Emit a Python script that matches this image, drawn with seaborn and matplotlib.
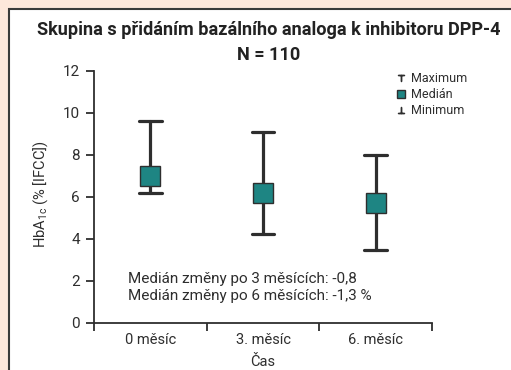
import matplotlib
matplotlib.use("Agg")
import matplotlib.pyplot as plt
from matplotlib.lines import Line2D
from matplotlib.patches import Rectangle
import pandas as pd
import seaborn as sns

# Data
months = ['0 měsíc', '3. měsíc', '6. měsíc']
maximum = [9.6, 9.1, 8.0]
median = [7.0, 6.2, 5.7]
minimum = [6.2, 4.25, 3.5]

teal = '#1e8583'
dark = '#2e2e2e'

sns.set_theme(style='white')
plt.rcParams['font.family'] = ['Roboto', 'DejaVu Sans']

# long form: min, median, max per month -> median estimator + 100% interval = min..max
df = pd.DataFrame({
    'cas': months * 3,
    'hba1c': minimum + median + maximum,
})

fig = plt.figure(figsize=(5.11, 3.70), dpi=100, facecolor='#fde7db')
fig.patches.append(Rectangle((9 / 511, -0.1), 1.2, 1 - 9 / 370 + 0.1,
                             transform=fig.transFigure, facecolor='white',
                             edgecolor='#3a3a3a', linewidth=1.5, zorder=-5))
ax = fig.add_axes([94 / 511, 1 - 323 / 370, 338 / 511, 252 / 370])
ax.set_facecolor('none')
ax.set_zorder(2)

sns.pointplot(data=df, x='cas', y='hba1c', order=months, ax=ax,
              estimator='median', errorbar=('pi', 100), capsize=0.2,
              linestyle='none', marker='s', markersize=15, color=teal,
              markeredgecolor=dark, markeredgewidth=1.0,
              err_kws={'color': dark, 'linewidth': 2.3})

# put the median squares above the whiskers
for ln in ax.lines:
    if ln.get_marker() == 's':
        ln.set_zorder(5)

ax.set_xlim(-0.5, 2.5)
ax.set_ylim(0, 12)
ax.set_yticks(range(0, 13, 2))
ax.set_xticks([-0.5, 0.5, 1.5, 2.5])
ax.set_xticklabels([])
ax.set_xticks([0, 1, 2], minor=True)
ax.set_xticklabels(months, minor=True, fontsize=10.5, color=dark)
ax.tick_params(axis='x', which='minor', length=0, pad=7)
ax.tick_params(axis='x', which='major', length=6, width=1.3, color=dark, direction='out', bottom=True)
ax.tick_params(axis='y', length=6, width=1.3, color=dark, direction='out', left=True,
               labelsize=11, labelcolor=dark, pad=4)

for side in ['top', 'right']:
    ax.spines[side].set_visible(False)
for side in ['left', 'bottom']:
    ax.spines[side].set_color(dark)
    ax.spines[side].set_linewidth(1.3)

ax.set_ylabel(r'HbA$_{\mathregular{1c}}$ (% [IFCC])', fontsize=10.5, color=dark)
ax.yaxis.set_label_coords(-0.13, 0.512)
ax.set_xlabel('Čas', fontsize=10.5, color=dark)
ax.xaxis.set_label_coords(0.5, -0.125)

fig.text(269 / 511, 1 - 30 / 370, 'Skupina s přidáním bazálního analoga k inhibitoru DPP-4',
         ha='center', va='center', fontsize=13.1, fontweight='bold', color='#222222')
fig.text(269 / 511, 1 - 55 / 370, 'N = 110',
         ha='center', va='center', fontsize=13.1, fontweight='bold', color='#222222')

ax.text(0.1, 0.142, 'Medián změny po 3 měsících: -0,8\nMedián změny po 6 měsících: -1,3 %',
        transform=ax.transAxes, ha='left', va='center', fontsize=11,
        linespacing=1.25, color=dark)

handles = [
    Line2D([], [], linestyle='none', marker=r'$\top$', markersize=5, color=dark),
    Line2D([], [], linestyle='none', marker='s', markersize=5.5, color=teal,
           markeredgecolor=dark, markeredgewidth=1.0),
    Line2D([], [], linestyle='none', marker=r'$\bot$', markersize=5, color=dark),
]
fig.legend(handles, ['Maximum', 'Medián', 'Minimum'], loc='upper left',
           bbox_to_anchor=(390 / 511, 1 - 66 / 370), frameon=False,
           fontsize=9, handlelength=0.8, handleheight=0.6, handletextpad=0.4,
           labelspacing=0.22, borderpad=0, labelcolor=dark)

fig.savefig('out.png', dpi=100, facecolor=fig.get_facecolor())
